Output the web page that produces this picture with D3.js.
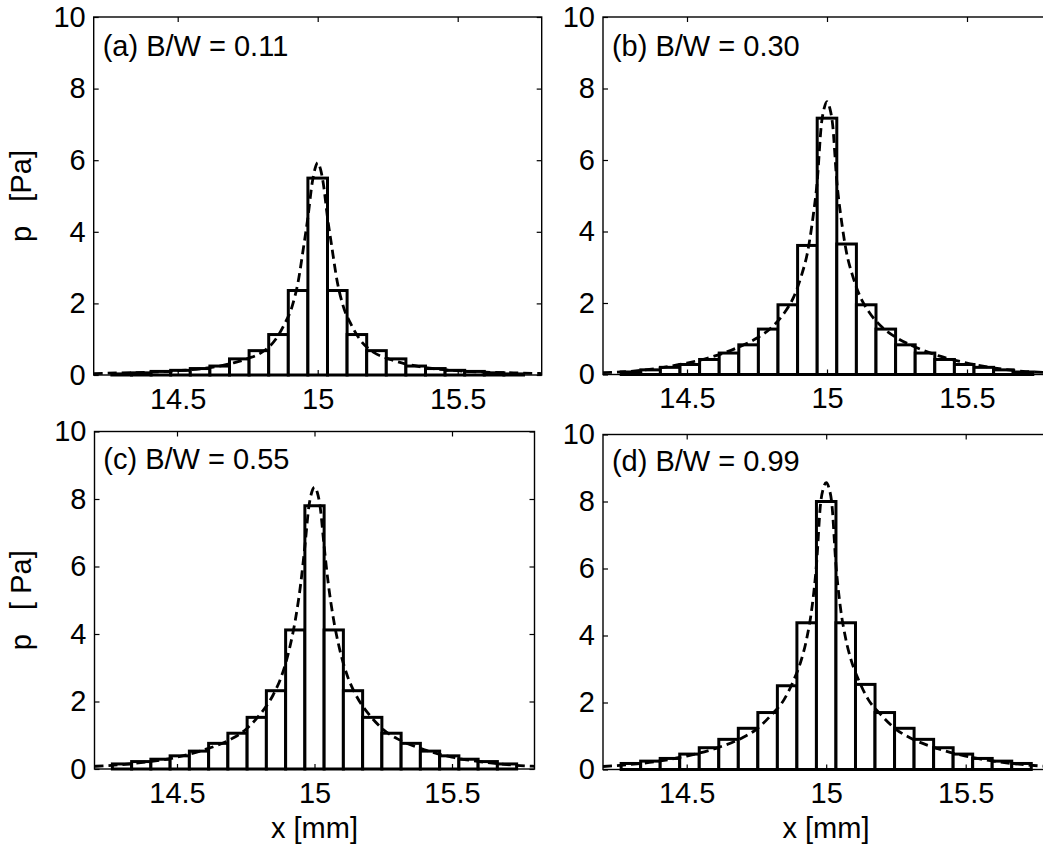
<!DOCTYPE html>
<html>
<head>
<meta charset="utf-8">
<script src="https://cdn.jsdelivr.net/npm/d3@7"></script>
<style>
  body { margin: 0; background: #fff; }
  svg { display: block; }
  text { font-family: Arial, 'Liberation Sans', sans-serif; fill: #000; }
</style>
</head>
<body>
<div id="chart"></div>
<script>
// --- data ---
var xTicks = [14.5, 15, 15.5];
var xTickLabels = ['14.5', '15', '15.5'];
var yTicks = [0, 2, 4, 6, 8, 10];
var yTickLabels = ['0', '2', '4', '6', '8', '10'];

var binWidth = 0.07;
var binCenters = [14.30, 14.37, 14.44, 14.51, 14.58, 14.65, 14.72, 14.79, 14.86, 14.93, 15.00,
                  15.07, 15.14, 15.21, 15.28, 15.35, 15.42, 15.49, 15.56, 15.63, 15.70];

var barsA = [0.03, 0.06, 0.10, 0.13, 0.18, 0.25, 0.45, 0.68, 1.13, 2.36, 5.50,
             2.36, 1.13, 0.68, 0.45, 0.25, 0.18, 0.13, 0.10, 0.06, 0.03];
var barsB = [0.07, 0.13, 0.20, 0.28, 0.42, 0.60, 0.83, 1.27, 1.95, 3.61, 7.17,
             3.65, 1.95, 1.27, 0.83, 0.60, 0.42, 0.28, 0.20, 0.13, 0.07];
var barsC = [0.15, 0.22, 0.29, 0.39, 0.53, 0.76, 1.06, 1.53, 2.32, 4.12, 7.80,
             4.12, 2.32, 1.53, 1.06, 0.76, 0.53, 0.39, 0.29, 0.22, 0.15];
var barsD = [0.18, 0.25, 0.33, 0.46, 0.65, 0.90, 1.23, 1.70, 2.50, 4.38, 8.00,
             4.38, 2.54, 1.70, 1.23, 0.90, 0.65, 0.46, 0.33, 0.25, 0.18];

var curveX = [14.2, 14.3, 14.4, 14.5, 14.6, 14.7, 14.75, 14.8, 14.85, 14.88, 14.91, 14.93, 14.95,
              14.965, 14.98, 14.99, 15.0, 15.01, 15.02, 15.035, 15.05, 15.07, 15.09, 15.12, 15.15,
              15.2, 15.25, 15.3, 15.4, 15.5, 15.6, 15.7, 15.8];
var curveA = [0.04, 0.06, 0.08, 0.12, 0.19, 0.34, 0.46, 0.63, 1.0, 1.4, 1.95, 2.6, 3.6, 4.4, 5.35, 5.75, 5.93,
              5.75, 5.35, 4.4, 3.6, 2.6, 1.95, 1.4, 1.0, 0.63, 0.46, 0.34, 0.19, 0.12, 0.08, 0.06, 0.04];
var curveB = [0.05, 0.09, 0.18, 0.32, 0.52, 0.82, 1.02, 1.3, 1.75, 2.15, 2.8, 3.4, 4.4, 5.4, 7.0, 7.45, 7.63,
              7.45, 7.0, 5.4, 4.4, 3.4, 2.8, 2.15, 1.75, 1.3, 1.02, 0.82, 0.52, 0.32, 0.18, 0.09, 0.05];
var curveC = [0.08, 0.13, 0.22, 0.35, 0.57, 0.9, 1.17, 1.6, 2.2, 2.75, 3.6, 4.4, 5.5, 6.6, 7.8, 8.2, 8.35,
              8.2, 7.8, 6.6, 5.5, 4.4, 3.6, 2.75, 2.2, 1.6, 1.17, 0.9, 0.57, 0.35, 0.22, 0.13, 0.08];
var curveD = [0.09, 0.15, 0.25, 0.4, 0.62, 0.95, 1.2, 1.6, 2.1, 2.6, 3.25, 3.9, 4.9, 6.1, 7.95, 8.4, 8.56,
              8.4, 7.95, 6.1, 4.9, 3.9, 3.25, 2.6, 2.1, 1.6, 1.2, 0.95, 0.62, 0.4, 0.25, 0.15, 0.09];

var panelTitles = ['(a) B/W = 0.11', '(b) B/W = 0.30', '(c) B/W = 0.55', '(d) B/W = 0.99'];
var yLabels = ['p\u00a0\u00a0\u00a0[Pa]', '', 'p\u00a0\u00a0\u00a0[\u00a0Pa]', ''];
var xLabels = ['', '', 'x [mm]', 'x [mm]'];

// --- layout ---
var W = 1043, H = 850;
var xDomain = [14.2, 15.8], yDomain = [0, 10];
var boxes = [
  { l: 93.7,  r: 541.7,  t: 17,    b: 375 },
  { l: 603,   r: 1051,   t: 17,    b: 374.5 },
  { l: 94.5,  r: 534.5,  t: 431.5, b: 769 },
  { l: 603,   r: 1049.4, t: 434.5, b: 769.5 }
];
var allBars = [barsA, barsB, barsC, barsD];
var allCurves = [curveA, curveB, curveC, curveD];
var fontSize = 29, tickLen = 5;

var svg = d3.select('#chart').append('svg')
    .attr('width', W)
    .attr('height', H)
    .style('background', '#fff');

boxes.forEach(function(bx, i) {
  var x = d3.scaleLinear().domain(xDomain).range([bx.l, bx.r]);
  var y = d3.scaleLinear().domain(yDomain).range([bx.b, bx.t]);
  var g = svg.append('g');

  // histogram bars
  g.selectAll('rect.bar')
    .data(allBars[i])
    .enter().append('rect')
      .attr('class', 'bar')
      .attr('x', function(d, j) { return x(binCenters[j] - binWidth / 2); })
      .attr('width', function(d, j) { return x(binCenters[j] + binWidth / 2) - x(binCenters[j] - binWidth / 2); })
      .attr('y', function(d) { return y(d); })
      .attr('height', function(d) { return y(0) - y(d); })
      .style('fill', '#fff')
      .style('stroke', '#000')
      .style('stroke-width', 3);

  // dashed fit curve
  var line = d3.line()
    .x(function(d, j) { return x(curveX[j]); })
    .y(function(d) { return y(d); })
    .curve(d3.curveMonotoneX);
  g.append('path')
    .attr('d', line(allCurves[i]))
    .style('fill', 'none')
    .style('stroke', '#000')
    .style('stroke-width', 2.8)
    .style('stroke-dasharray', '9,5');

  // box
  g.append('rect')
    .attr('x', bx.l).attr('y', bx.t)
    .attr('width', bx.r - bx.l).attr('height', bx.b - bx.t)
    .style('fill', 'none').style('stroke', '#000').style('stroke-width', 1.4);

  // axes, ticks pointing inward
  var xb = g.append('g').attr('transform', 'translate(0,' + bx.b + ')')
    .call(d3.axisBottom(x).tickValues(xTicks).tickSize(-tickLen).tickSizeOuter(0)
      .tickPadding(13).tickFormat(function(d, j) { return xTickLabels[j]; }));
  var yl = g.append('g').attr('transform', 'translate(' + bx.l + ',0)')
    .call(d3.axisLeft(y).tickValues(yTicks).tickSize(-tickLen).tickSizeOuter(0)
      .tickPadding(8).tickFormat(function(d, j) { return yTickLabels[j]; }));
  var xt = g.append('g').attr('transform', 'translate(0,' + bx.t + ')')
    .call(d3.axisTop(x).tickValues(xTicks).tickSize(-tickLen).tickSizeOuter(0).tickFormat(''));
  var yr = g.append('g').attr('transform', 'translate(' + bx.r + ',0)')
    .call(d3.axisRight(y).tickValues(yTicks).tickSize(-tickLen).tickSizeOuter(0).tickFormat(''));

  [xb, yl, xt, yr].forEach(function(ax) {
    ax.select('.domain').remove();
    ax.selectAll('line').style('stroke', '#000').style('stroke-width', 1.2);
    ax.selectAll('text')
      .style('font-family', "Arial, 'Liberation Sans', sans-serif")
      .style('font-size', fontSize + 'px')
      .style('fill', '#000');
  });

  // panel title
  g.append('text')
    .attr('x', x(14.232))
    .attr('y', y(8.9))
    .style('font-size', fontSize + 'px')
    .text(panelTitles[i]);

  if (yLabels[i]) {
    g.append('text')
      .attr('transform', 'translate(31,' + ((bx.t + bx.b) / 2) + ') rotate(-90)')
      .attr('text-anchor', 'middle')
      .style('font-size', fontSize + 'px')
      .text(yLabels[i]);
  }
  if (xLabels[i]) {
    g.append('text')
      .attr('x', (bx.l + Math.min(bx.r, W)) / 2 + (i === 3 ? 3 : 0))
      .attr('y', 838)
      .attr('text-anchor', 'middle')
      .style('font-size', fontSize + 'px')
      .text(xLabels[i]);
  }
});
</script>
</body>
</html>
